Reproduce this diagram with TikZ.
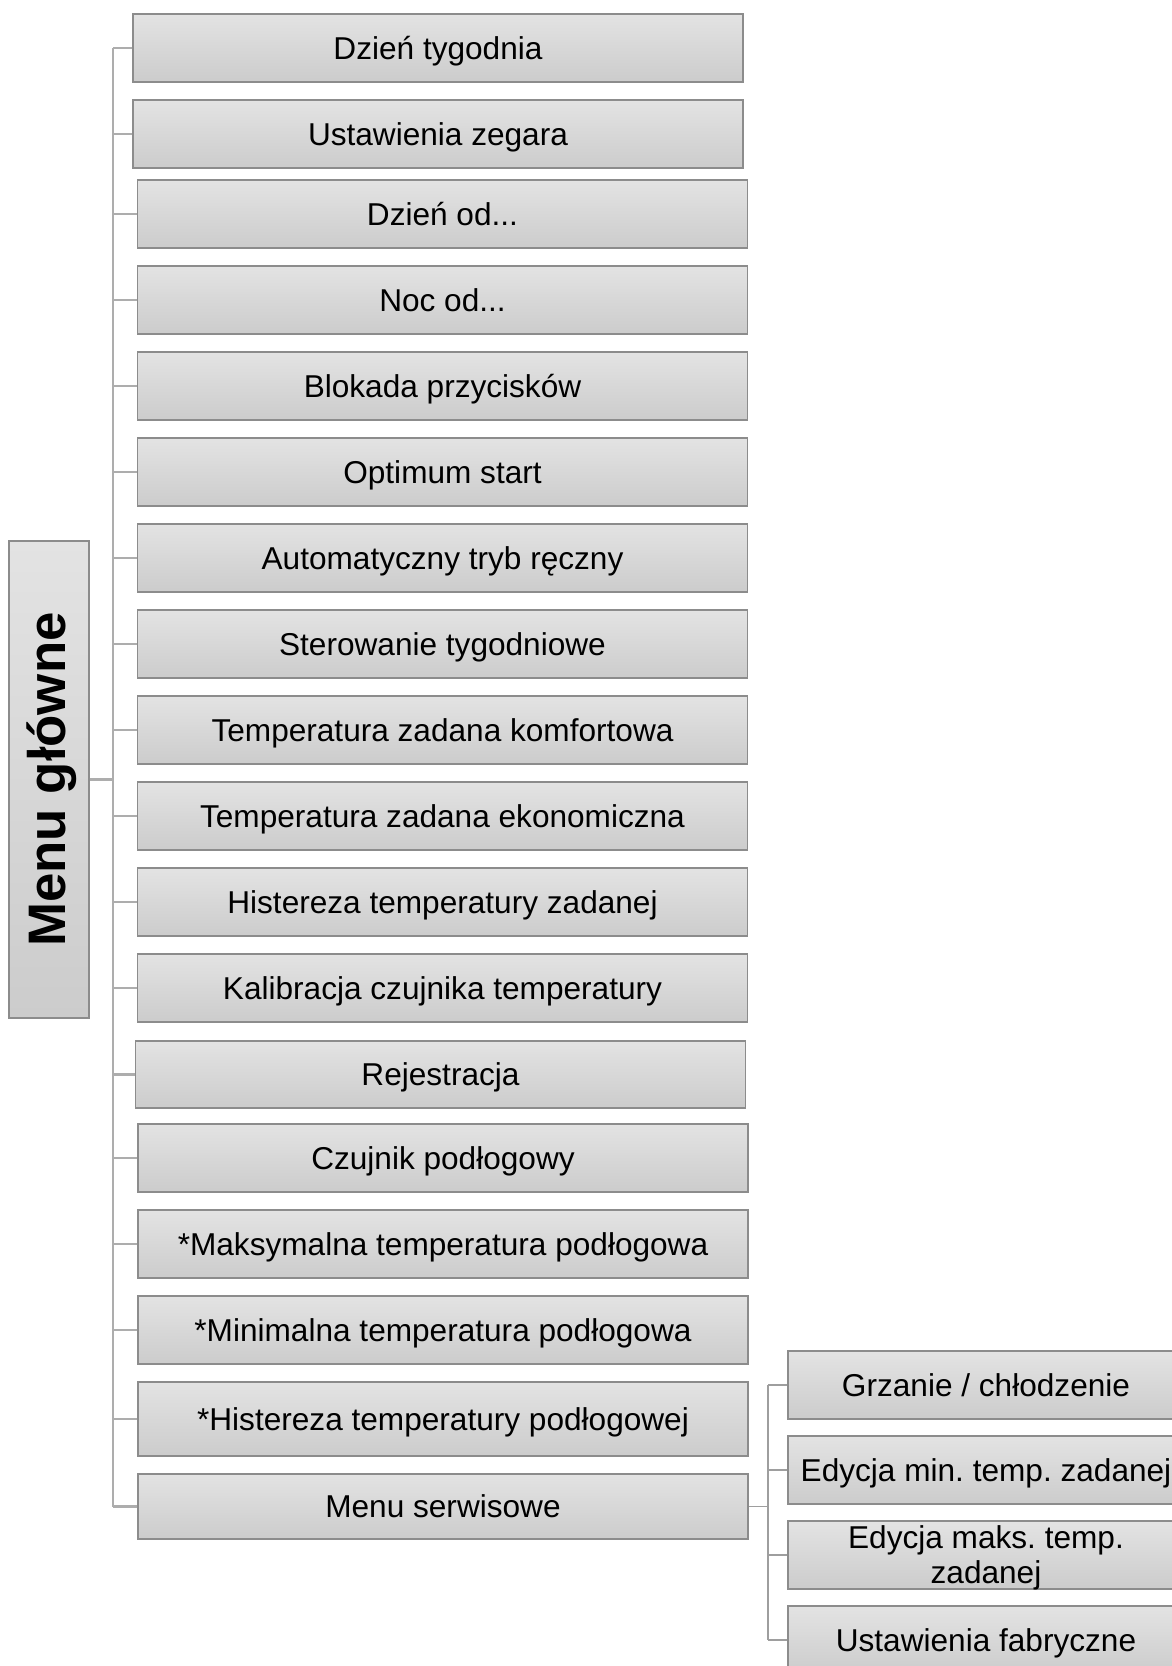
\documentclass[tikz,border=0pt]{standalone}
\usepackage{fontspec}
\setmainfont{Liberation Sans}
\usepackage{tikz}
\usetikzlibrary{calc}
\frenchspacing

\begin{document}
\begin{tikzpicture}[
  x=0.5pt, y=-0.5pt,
  every node/.style={font=\fontsize{15.8}{17.5}\selectfont},
  menubox/.style={rectangle, draw=black!45, line width=0.6pt, inner sep=0pt,
    top color=black!11, bottom color=black!20, align=center, text depth=0pt,
    minimum width=305pt, minimum height=34pt},
  subbox/.style={menubox, minimum width=198pt},
  branch/.style={draw=black!32, line width=1.4pt},
  subbranch/.style={draw=black!38, line width=0.6pt}
]
\clip (0,0) rectangle (1172,1666);

% ====== ROOT ======
\node[menubox, minimum width=40pt, minimum height=238.5pt] (menu) at (49,779.5)
    {\hspace*{3pt}\rotatebox{90}{\fontsize{26.4}{30}\selectfont\bfseries Menu główne}};

\coordinate (trunk) at (113,0);
\coordinate (subtrunk) at (768,0);

% ====== MAIN MENU ITEMS ======
\foreach \i/\xc/\yc/\h/\txt in {
  1/438/48/68/{Dzień tygodnia},
  2/438/134/68/{Ustawienia zegara},
  3/442.5/214/68/{Dzień od...},
  4/442.5/300/68/{Noc od...},
  5/442.5/386/68/{Blokada przycisków},
  6/442.5/472/68/{Optimum start},
  7/442.5/558/68/{Automatyczny tryb ręczny},
  8/442.5/644/68/{Sterowanie tygodniowe},
  9/442.5/730/68/{Temperatura zadana komfortowa},
  10/442.5/816/68/{Temperatura zadana ekonomiczna},
  11/442.5/902/68/{Histereza temperatury zadanej},
  12/442.5/988/68/{Kalibracja czujnika temperatury},
  13/440.5/1074.5/67/{Rejestracja},
  14/443/1158/68/{Czujnik podłogowy},
  15/443/1244/68/{*Maksymalna temperatura podłogowa},
  16/443/1330/68/{*Minimalna temperatura podłogowa},
  17/443/1419/74/{*Histereza temperatury podłogowej},
  18/443/1506.5/65/{Menu serwisowe}}{
  \node[menubox, minimum height=\h*0.5pt] (item\i) at (\xc,\yc) {\txt};
  \draw[branch] (item\i.west) -- (trunk |- item\i.west);
}
\draw[branch] (trunk |- item1.west) -- (trunk |- item18.west);
\draw[branch] (menu.east) -- (trunk |- menu.east);

% ====== SERVICE MENU ======
\node[subbox] (subA) at (986,1385) {Grzanie / chłodzenie};
\node[subbox] (subB) at (986,1470) {Edycja min. temp. zadanej};
\node[subbox] (subC) at (986,1555) {Edycja maks. temp.\\zadanej};
\node[subbox] (subD) at (986,1640) {Ustawienia fabryczne};

\foreach \s in {subA, subB, subC, subD}{
  \draw[subbranch] (\s.west) -- (subtrunk |- \s.west);
}
\draw[subbranch] (subtrunk |- subA.west) -- (subtrunk |- subD.west);
\draw[subbranch] (item18.east) -- (subtrunk |- item18.east);

\end{tikzpicture}
\end{document}
